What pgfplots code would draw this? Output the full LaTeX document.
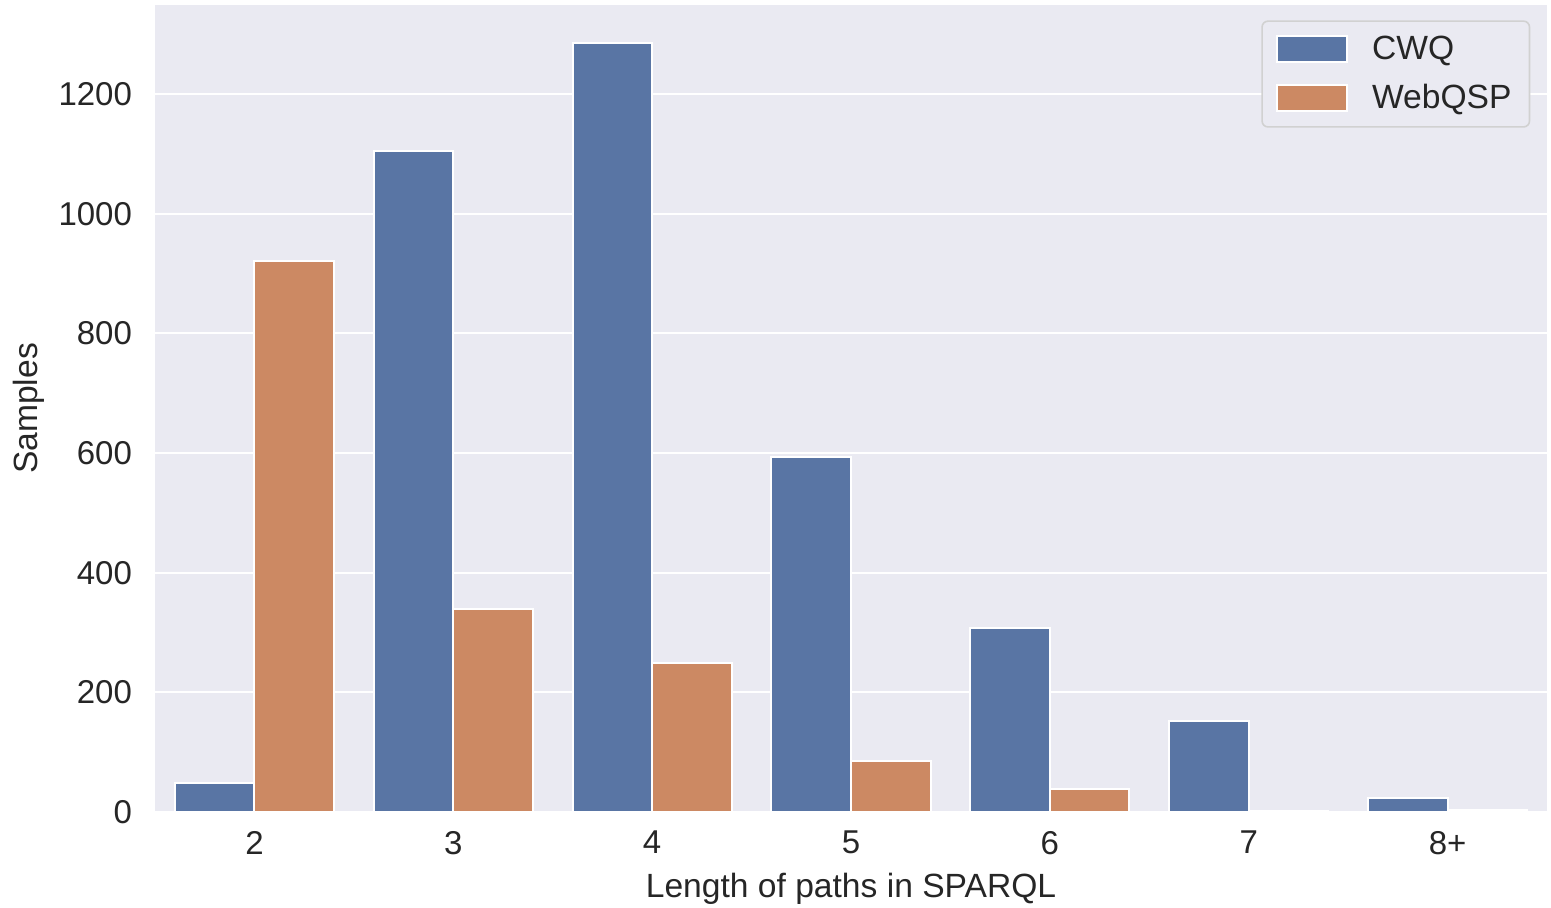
\documentclass[border=0pt]{standalone}
\usepackage{pgfplots}
\pgfplotsset{compat=1.18}
\usepackage{fontspec}
\setmainfont{Liberation Sans}
\definecolor{bgc}{HTML}{EAEAF2}
\definecolor{cwq}{HTML}{5975A4}
\definecolor{wqsp}{HTML}{CC8963}
\definecolor{txt}{HTML}{262626}
\begin{document}
\begin{tikzpicture}
\begin{axis}[
  at={(0,0)}, anchor=south west,
  scale only axis, width=696pt, height=403.5pt,
  xmin=-0.5, xmax=6.5, ymin=0, ymax=1349,
  ybar=0pt, bar width=0.4,
  xtick={0,1,2,3,4,5,6},
  xticklabels={2,3,4,5,6,7,8+},
  ytick={0,200,400,600,800,1000,1200},
  major tick length=0pt,
  xmajorgrids=false, ymajorgrids=true,
  grid style={white, line width=1pt},
  axis line style={draw=none},
  axis background/.style={fill=bgc},
  font=\fontsize{16.5}{19}\selectfont,
  ticklabel style={font=\fontsize{16.5}{19}\selectfont, text=txt},
  /pgf/number format/assume math mode=true,
  /pgf/number format/1000 sep={},
  xticklabel style={yshift=-6pt},
  yticklabel style={xshift=-8pt},
  xlabel={Length of paths in SPARQL},
  ylabel={Samples},
  label style={text=txt, font=\fontsize{16.8}{19}\selectfont},
  xlabel style={yshift=-2.5pt},
  ylabel style={yshift=0pt},
  legend image code/.code={\draw[#1, draw=white, line width=1pt, sharp corners] (0pt,-6.5pt) rectangle (35pt,6.5pt);},
  legend style={at={(rel axis cs:0.988,0.981)}, anchor=north east,
    fill=bgc, draw=black!18, line width=0.8pt, rounded corners=3pt,
    font=\fontsize{16.8}{19}\selectfont, text=txt,
    row sep=7pt, inner xsep=7pt, inner ysep=5.5pt,
    /tikz/every odd column/.style={column sep=10pt}},
  legend cell align=left,
]
\addplot[fill=cwq, draw=white, line width=1pt] coordinates {
  (0,48) (1,1105) (2,1285) (3,594) (4,307) (5,152) (6,24)};
\addplot[fill=wqsp, draw=white, line width=1pt] coordinates {
  (0,921) (1,339) (2,249) (3,85) (4,38) (5,1) (6,4)};
\legend{CWQ, WebQSP}
\end{axis}
\pgfresetboundingbox
\path[use as bounding box] (-77.5pt,-47.5pt) rectangle (698pt,406pt);
\end{tikzpicture}
\end{document}
